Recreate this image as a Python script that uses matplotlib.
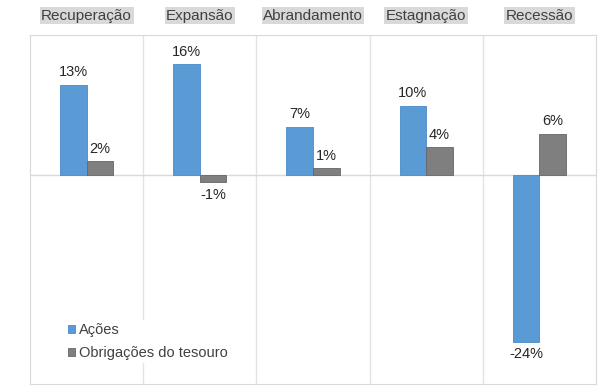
import matplotlib
matplotlib.use("Agg")
import matplotlib.pyplot as plt
import numpy as np

categories = ["Recuperação", "Expansão", "Abrandamento", "Estagnação", "Recessão"]
acoes = [13, 16, 7, 10, -24]
obrigacoes = [2, -1, 1, 4, 6]
series_names = ["Ações", "Obrigações do tesouro"]

plt.rcParams['font.family'] = ['Liberation Sans', 'DejaVu Sans']

fig = plt.figure(figsize=(6.06, 3.92), dpi=100)
ax = fig.add_axes([0.0495, 0.0204, 0.934, 0.8903])

x = np.arange(len(categories))
w = 0.235
b1 = ax.bar(x - w/2, acoes, w, color="#5B9BD5", edgecolor="#4A8AC8", linewidth=0.6,
            label=series_names[0], zorder=3)
b2 = ax.bar(x + w/2, obrigacoes, w, color="#7F7F7F", edgecolor="#666666", linewidth=0.6,
            label=series_names[1], zorder=3)

for bars, vals in ((b1, acoes), (b2, obrigacoes)):
    for r, v in zip(bars, vals):
        cx = r.get_x() + r.get_width()/2
        if v >= 0:
            ax.annotate(f"{v}%", (cx, v), xytext=(0, 4), textcoords="offset points",
                        ha="center", va="bottom", fontsize=10.5, color="#262626")
        else:
            ax.annotate(f"{v}%", (cx, v), xytext=(0, -4), textcoords="offset points",
                        ha="center", va="top", fontsize=10.5, color="#262626")

ax.set_xlim(-0.5, len(categories) - 0.5)
ax.set_ylim(-30.1, 20.2)
ax.axhline(0, color="#D9D9D9", linewidth=1, zorder=2)
for i in range(1, len(categories)):
    ax.axvline(i - 0.5, color="#E3E3E3", linewidth=1, zorder=1)
for s in ax.spines.values():
    s.set_color("#D9D9D9")
ax.set_xticks([])
ax.set_yticks([])

for i, c in enumerate(categories):
    ax.text(i, 1.055, c, transform=ax.get_xaxis_transform(), ha="center", va="center",
            fontsize=11, color="#404040",
            bbox=dict(boxstyle="square,pad=0.1", facecolor="#D9D9D9", edgecolor="none"))

leg = ax.legend(loc="lower left", bbox_to_anchor=(0.049, 0.04), frameon=True,
                fontsize=10.5, handlelength=0.45, handleheight=0.45, handletextpad=0.3,
                labelspacing=0.6, borderpad=0.2, fancybox=False)
leg.get_frame().set_edgecolor("none")
leg.get_frame().set_facecolor("white")
leg.get_frame().set_alpha(1)
for t in leg.get_texts():
    t.set_color("#404040")

fig.savefig("out.png", dpi=100, facecolor="white")
